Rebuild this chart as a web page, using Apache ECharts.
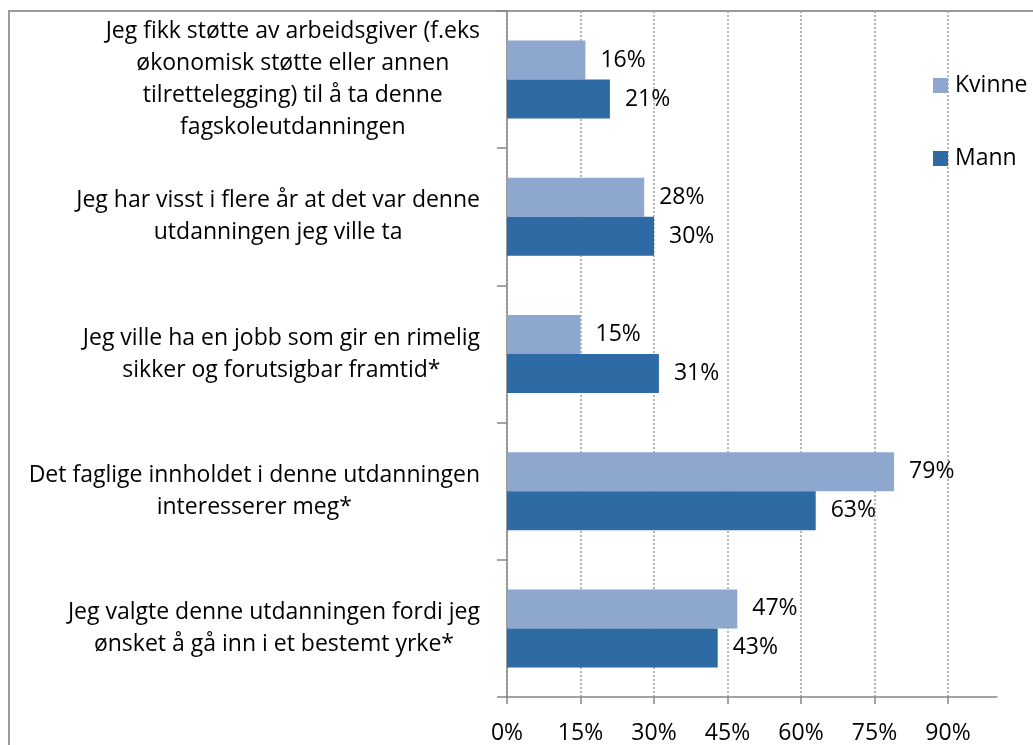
<!DOCTYPE html>
<html>
<head>
<meta charset="utf-8">
<script src="https://cdn.jsdelivr.net/npm/echarts@6/dist/echarts.min.js"></script>
<style>
	html, body { margin: 0; padding: 0; background: #fff; }
	#chart { width: 1033px; height: 745px; }
</style>
</head>
<body>
<div id="chart"></div>
<script>
const categories = [
	"Jeg fikk støtte av arbeidsgiver (f.eks\nøkonomisk støtte eller annen\ntilrettelegging) til å ta denne\nfagskoleutdanningen",
	"Jeg har visst i flere år at det var denne\nutdanningen jeg ville ta",
	"Jeg ville ha en jobb som gir en rimelig\nsikker og forutsigbar framtid*",
	"Det faglige innholdet i denne utdanningen\ninteresserer meg*",
	"Jeg valgte denne utdanningen fordi jeg\nønsket å gå inn i et bestemt yrke*",
]
const kvinne = [16, 28, 15, 79, 47]
const mann = [21, 30, 31, 63, 43]
const xTicks = [0, 15, 30, 45, 60, 75, 90]

const font = "'Open Sans', sans-serif"
const fontSize = 23

const barLabel = {
	show: true,
	position: "right",
	distance: 15,
	formatter: "{c}%",
	color: "#000",
	fontFamily: font,
	fontSize: fontSize,
}

const option = {
	animation: false,
	backgroundColor: "#fff",
	textStyle: { fontFamily: font },
	graphic: [
		{
			type: "rect",
			shape: { x: 9, y: 11, width: 1200, height: 1000 },
			style: { fill: "none", stroke: "#9a9a9a", lineWidth: 2 },
			silent: true,
			z: -1,
		},
	],
	legend: {
		orient: "vertical",
		left: 933,
		top: 74,
		padding: 0,
		itemWidth: 15,
		itemHeight: 15,
		itemGap: 50,
		icon: "rect",
		textStyle: { color: "#000", fontFamily: font, fontSize: fontSize, padding: [0, 0, 0, 2] },
		data: ["Kvinne", "Mann"],
	},
	grid: {
		left: 507,
		right: 36,
		top: 11,
		bottom: 48,
		containLabel: false,
	},
	xAxis: {
		type: "value",
		min: 0,
		max: 100,
		interval: 15,
		axisLine: { show: true, lineStyle: { color: "#868686", width: 1.5 } },
		axisTick: {
			show: true,
			length: 7,
			customValues: xTicks,
			lineStyle: { color: "#868686", width: 1.5 },
		},
		axisLabel: {
			customValues: xTicks,
			formatter: "{value}%",
			color: "#000",
			fontFamily: font,
			fontSize: fontSize,
			margin: 25,
		},
		splitLine: {
			show: true,
			lineStyle: { color: "#a0a0a0", type: [2, 2], width: 1.5 },
		},
	},
	yAxis: {
		type: "category",
		inverse: true,
		data: categories,
		axisLine: { show: true, lineStyle: { color: "#868686", width: 1.5 } },
		axisTick: { show: true, length: 10, lineStyle: { color: "#868686", width: 1.5 } },
		axisLabel: {
			interval: 0,
			margin: 27,
			align: "right",
			color: "#000",
			fontFamily: font,
			fontSize: fontSize,
			lineHeight: 32,
			formatter: (value) => value.split("\n").map((l) => "{a|" + l + "}").join("\n"),
			rich: {
				a: {
					align: "center",
					color: "#000",
					fontFamily: font,
					fontSize: fontSize,
					lineHeight: 32,
				},
			},
		},
		splitLine: { show: false },
	},
	series: [
		{
			name: "Kvinne",
			type: "bar",
			data: kvinne,
			barWidth: 39,
			barGap: "0%",
			itemStyle: { color: "#8ea7cf" },
			label: barLabel,
		},
		{
			name: "Mann",
			type: "bar",
			data: mann,
			barWidth: 39,
			barGap: "0%",
			itemStyle: { color: "#2e6ba5" },
			label: barLabel,
		},
	],
}

const chart = echarts.init(document.getElementById("chart"))
chart.setOption(option)
</script>
</body>
</html>
